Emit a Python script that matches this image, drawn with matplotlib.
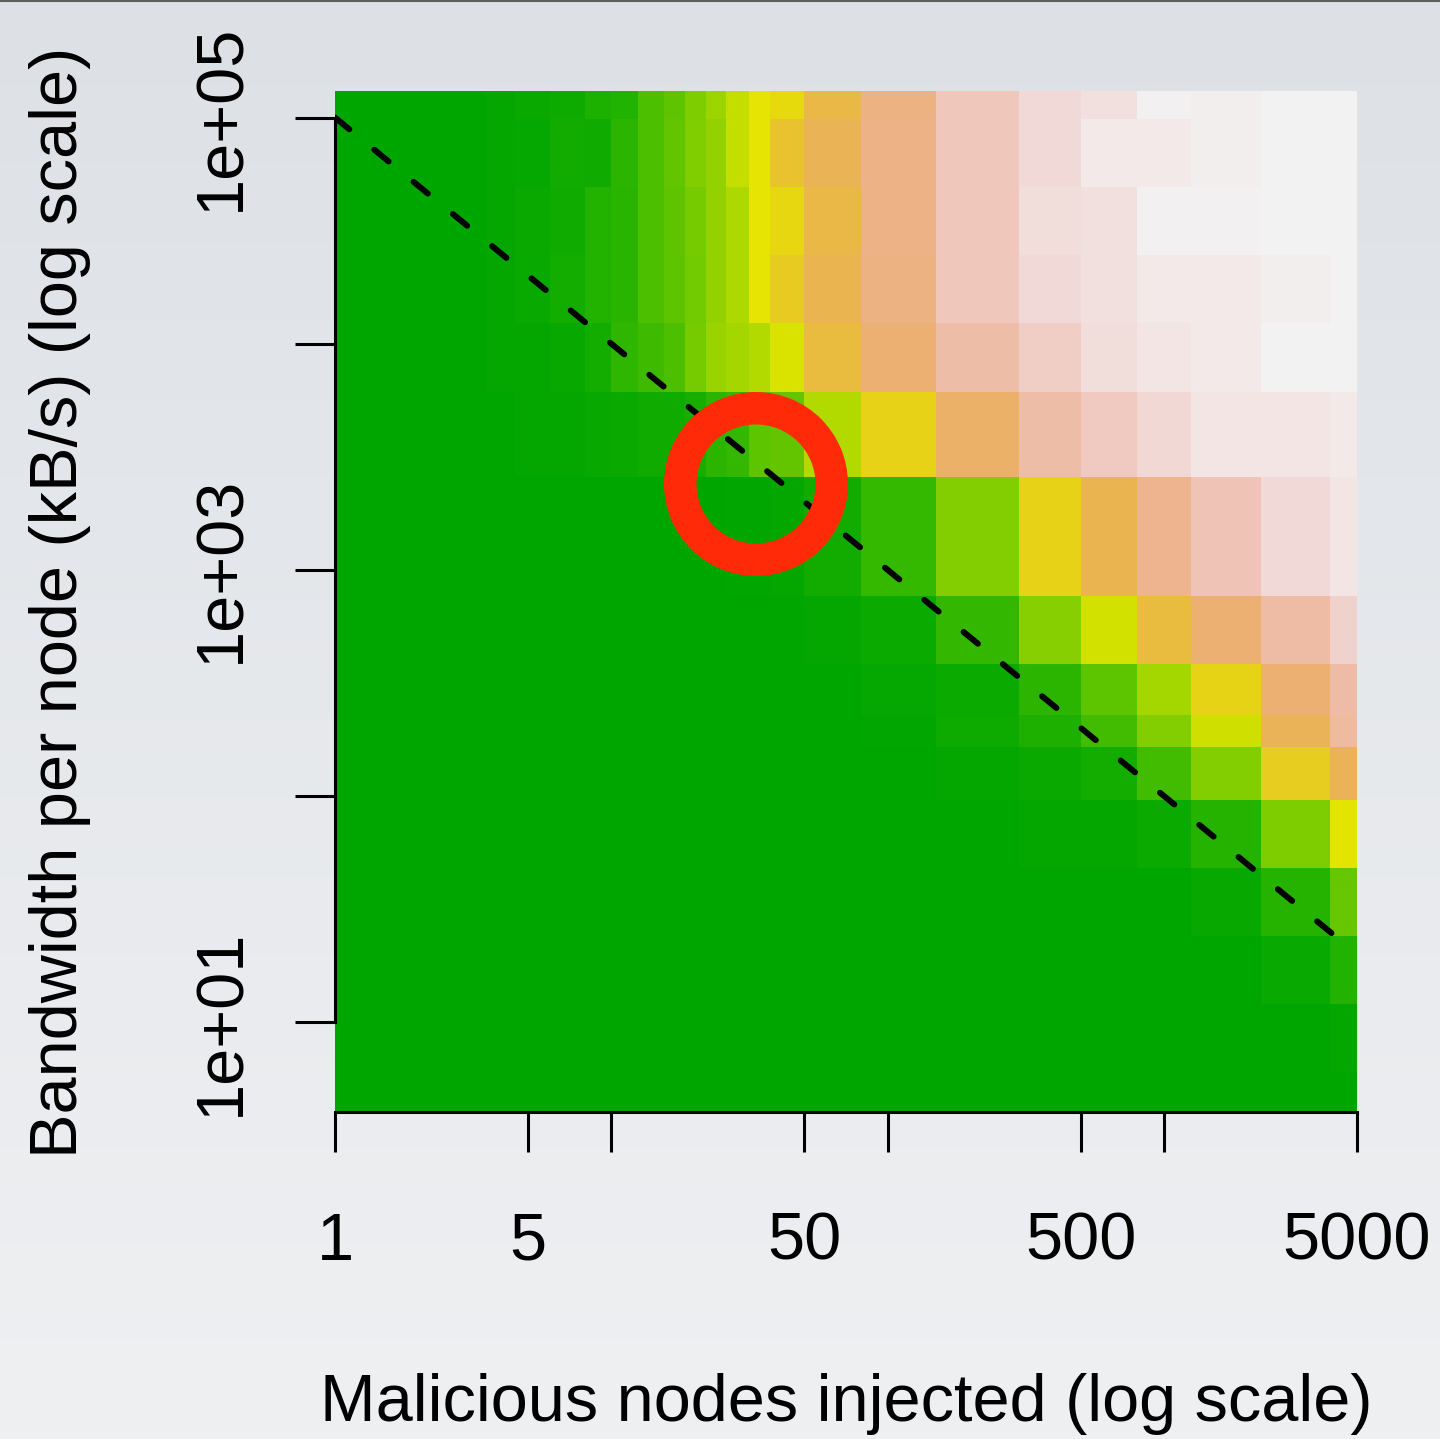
import colorsys
import numpy as np
import matplotlib
matplotlib.use('Agg')
import matplotlib.pyplot as plt
from matplotlib.colors import ListedColormap, LinearSegmentedColormap
from matplotlib.lines import Line2D
from matplotlib.patches import Annulus

plt.rcParams['font.family'] = ['Liberation Sans', 'DejaVu Sans']

# malicious nodes injected (column centres)
nodes = [1, 2, 3, 4, 5, 7, 9, 11, 14, 17, 20, 24, 28, 35, 40, 60,
         100, 200, 400, 600, 1000, 1500, 3000, 5000]
# bandwidth per node in kB/s (row centres, bottom to top)
bandwidth = [4, 8, 16, 32, 64, 128, 200, 256, 512, 1024,
             4096, 8192, 16384, 32768, 65536, 131072]

# attack impact, 0 = none (green) .. 1 = full (white)
# one row per bandwidth value, listed from the top row (131072) down to 4
impact = [
    [0, 0, 0, 0.012, 0.03, 0.041, 0.082, 0.096, 0.198, 0.24, 0.305, 0.366, 0.44, 0.5, 0.526, 0.65, 0.77, 0.89, 0.945, 0.96, 0.995, 0.99, 1, 1],
    [0, 0, 0, 0.009, 0.018, 0.052, 0.044, 0.124, 0.198, 0.247, 0.31, 0.35, 0.44, 0.5, 0.6, 0.68, 0.78, 0.89, 0.945, 0.98, 0.98, 0.99, 1, 1],
    [0, 0, 0, 0.009, 0.029, 0.046, 0.096, 0.116, 0.198, 0.241, 0.292, 0.35, 0.40, 0.5, 0.535, 0.65, 0.78, 0.89, 0.95, 0.96, 0.995, 0.995, 1, 1],
    [0, 0, 0, 0.009, 0.026, 0.055, 0.096, 0.116, 0.198, 0.241, 0.285, 0.35, 0.40, 0.5, 0.57, 0.67, 0.77, 0.89, 0.945, 0.96, 0.98, 0.98, 0.99, 1],
    [0, 0, 0, 0.009, 0.015, 0.021, 0.055, 0.126, 0.167, 0.198, 0.29, 0.36, 0.38, 0.41, 0.48, 0.63, 0.74, 0.85, 0.91, 0.95, 0.97, 0.98, 1, 1],
    [0, 0, 0, 0, 0.012, 0.015, 0.021, 0.029, 0.046, 0.046, 0.068, 0.124, 0.139, 0.235, 0.247, 0.41, 0.55, 0.72, 0.85, 0.9, 0.94, 0.97, 0.97, 0.98],
    [0, 0, 0, 0, 0, 0, 0, 0, 0, 0, 0, 0, 0.005, 0.005, 0.015, 0.052, 0.144, 0.314, 0.55, 0.67, 0.8, 0.88, 0.945, 0.97],
    [0, 0, 0, 0, 0, 0, 0, 0, 0, 0, 0, 0, 0, 0, 0, 0.01, 0.032, 0.139, 0.327, 0.465, 0.63, 0.74, 0.84, 0.925],
    [0, 0, 0, 0, 0, 0, 0, 0, 0, 0, 0, 0, 0, 0, 0, 0, 0.018, 0.035, 0.124, 0.235, 0.382, 0.545, 0.74, 0.845],
    [0, 0, 0, 0, 0, 0, 0, 0, 0, 0, 0, 0, 0, 0, 0, 0, 0.005, 0.04, 0.085, 0.175, 0.314, 0.46, 0.685, 0.835],
    [0, 0, 0, 0, 0, 0, 0, 0, 0, 0, 0, 0, 0, 0, 0, 0, 0, 0.01, 0.03, 0.057, 0.175, 0.314, 0.565, 0.685],
    [0, 0, 0, 0, 0, 0, 0, 0, 0, 0, 0, 0, 0, 0, 0, 0, 0, 0, 0.01, 0.015, 0.035, 0.107, 0.306, 0.495],
    [0, 0, 0, 0, 0, 0, 0, 0, 0, 0, 0, 0, 0, 0, 0, 0, 0, 0, 0, 0, 0, 0.02, 0.107, 0.254],
    [0, 0, 0, 0, 0, 0, 0, 0, 0, 0, 0, 0, 0, 0, 0, 0, 0, 0, 0, 0, 0, 0, 0.024, 0.096],
    [0, 0, 0, 0, 0, 0, 0, 0, 0, 0, 0, 0, 0, 0, 0, 0, 0, 0, 0, 0, 0, 0, 0, 0.01],
    [0, 0, 0, 0, 0, 0, 0, 0, 0, 0, 0, 0, 0, 0, 0, 0, 0, 0, 0, 0, 0, 0, 0, 0],
]

x_ticks = [1, 5, 10, 50, 100, 500, 1000, 5000]
x_ticklabels = ['1', '5', '', '50', '', '500', '', '5000']
y_ticks = [1e1, 1e2, 1e3, 1e4, 1e5]
y_ticklabels = ['1e+01', '', '1e+03', '', '1e+05']

budget = 1e5  # nodes * bandwidth reference line
budget_nodes = [1, 4300]


def terrain_colors(n):
    # same as R's terrain.colors()
    k = n // 2
    cols = []
    for h, s, v in zip(np.linspace(4/12, 2/12, k), np.ones(k), np.linspace(0.65, 0.9, k)):
        cols.append(colorsys.hsv_to_rgb(h, s, v))
    m = n - k + 1
    for h, s, v in list(zip(np.linspace(2/12, 0, m), np.linspace(1, 0, m), np.linspace(0.9, 0.95, m)))[1:]:
        cols.append(colorsys.hsv_to_rgb(h, s, v))
    return ListedColormap(cols)


def cell_edges(c):
    c = np.asarray(c, dtype=float)
    mid = (c[:-1] + c[1:]) / 2
    return np.concatenate([[c[0] - (c[1] - c[0]) / 2], mid, [c[-1] + (c[-1] - c[-2]) / 2]])


W, H = 1440, 1439
fig = plt.figure(figsize=(W / 100, H / 100), dpi=100)

# slide-like grey gradient background
bg = fig.add_axes([0, 0, 1, 1], zorder=-10)
grad = np.linspace(0, 1, 256).reshape(-1, 1)
bg_cmap = LinearSegmentedColormap.from_list('bg', ['#dde1e6', '#eff0f2'])
bg.imshow(grad, aspect='auto', cmap=bg_cmap, extent=[0, 1, 0, 1], origin='upper')
bg.axis('off')
fig.add_artist(Line2D([0, 1], [1 - 1.0 / H] * 2, transform=fig.transFigure, color='#5f5f5f', lw=1.5))

ax = fig.add_axes([335 / W, 1 - 1112 / H, (1357 - 335) / W, (1112 - 91) / H])
ax.set_facecolor('none')

z = np.flipud(np.array(impact))
ax.pcolormesh(cell_edges(nodes), cell_edges(bandwidth), z, cmap=terrain_colors(256),
              vmin=0, vmax=1, shading='flat')

ax.set_xscale('log')
ax.set_yscale('log')
ax.set_xlim(nodes[0], nodes[-1])
ax.set_ylim(bandwidth[0], bandwidth[-1])

line_x = np.array(budget_nodes, dtype=float)
ax.plot(line_x, budget / line_x, color='black', lw=4.3, ls=(0, (3.1, 5.4)),
        dash_capstyle='round', zorder=3)

for side in ['top', 'right']:
    ax.spines[side].set_visible(False)
for side in ['left', 'bottom']:
    ax.spines[side].set_linewidth(2.2)
ax.spines['bottom'].set_bounds(x_ticks[0], x_ticks[-1])
ax.spines['left'].set_bounds(y_ticks[0], y_ticks[-1])

ax.set_xticks(x_ticks)
ax.set_xticklabels(x_ticklabels)
ax.set_yticks(y_ticks)
ax.set_yticklabels(y_ticklabels, rotation=90, rotation_mode='anchor', ha='center', va='baseline')
ax.minorticks_off()
ax.tick_params(axis='both', which='major', length=28.8, width=2.2, direction='out', labelsize=48)
ax.tick_params(axis='x', pad=43)
ax.tick_params(axis='y', pad=40)

fig.text(846 / W, 1 - 1421 / H, 'Malicious nodes injected (log scale)', fontsize=48,
         ha='center', va='baseline')
fig.text(77 / W, 1 - 602 / H, 'Bandwidth per node (kB/s) (log scale)', fontsize=48,
         rotation=90, rotation_mode='anchor', ha='center', va='baseline')

# highlight ring
fig.add_artist(Annulus((7.56, (H - 484) / 100), 0.92, 0.325, transform=fig.dpi_scale_trans,
                       facecolor='#ff2a07', edgecolor='none', zorder=5))

fig.savefig('out.png', dpi=100)
